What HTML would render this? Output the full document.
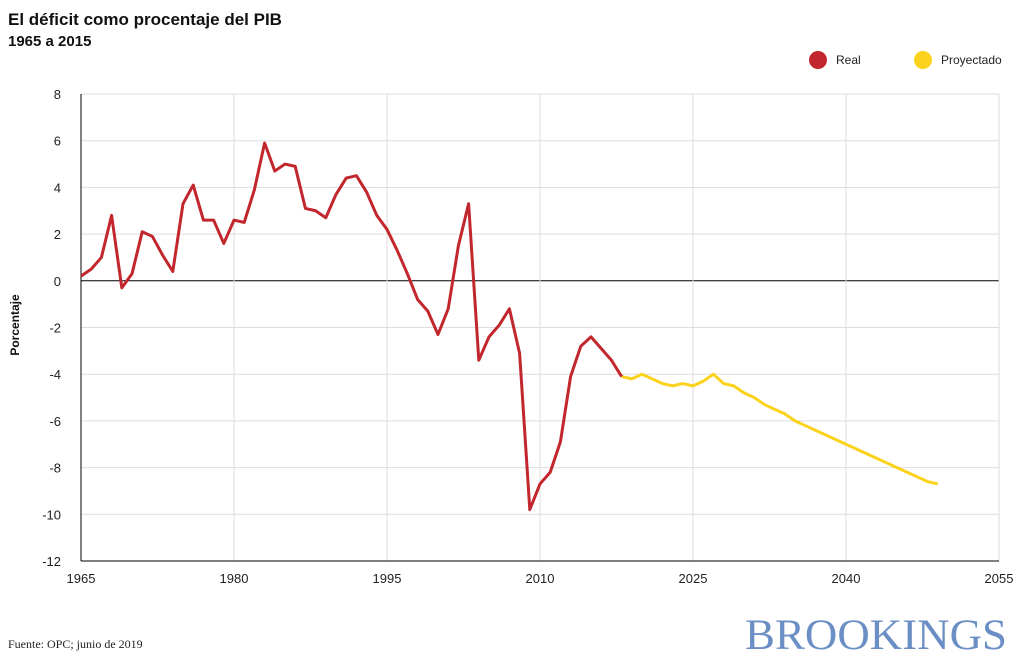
<!DOCTYPE html>
<html><head><meta charset="utf-8">
<style>
body{margin:0;background:#fff;width:1024px;height:663px;overflow:hidden;font-family:"Liberation Sans",sans-serif;}
svg{display:block}
</style></head>
<body>
<svg width="1024" height="663" id="chart">
<text x="8" y="25" font-size="17" font-weight="bold" fill="#111">El déficit como procentaje del PIB</text>
<text x="8" y="46" font-size="15" font-weight="bold" fill="#111">1965 a 2015</text>
<g>
<circle cx="818" cy="60" r="9" fill="#c1272d"/>
<text x="836" y="64" font-size="12" fill="#222">Real</text>
<circle cx="923" cy="60" r="9" fill="#fbd21c"/>
<text x="941" y="64" font-size="12" fill="#222">Proyectado</text>
</g>
<text transform="translate(19,325) rotate(-90)" text-anchor="middle" font-size="12" font-weight="bold" fill="#111">Porcentaje</text>
<g id="grid"></g>
<g id="marks"></g>
<text x="8" y="648" font-size="12" font-family="'Liberation Serif',serif" fill="#222">Fuente: OPC; junio de 2019</text>
<text x="745" y="649" textLength="262" lengthAdjust="spacingAndGlyphs" font-size="43" font-family="'Liberation Serif',serif" fill="#6b8fc4">BROOKINGS</text>
</svg>
<script>
const realYears=[1965,1966,1967,1968,1969,1970,1971,1972,1973,1974,1975,1976,1977,1978,1979,1980,1981,1982,1983,1984,1985,1986,1987,1988,1989,1990,1991,1992,1993,1994,1995,1996,1997,1998,1999,2000,2001,2002,2003,2004,2005,2006,2007,2008,2009,2010,2011,2012,2013,2014,2015,2016,2017,2018];
const realValues=[0.2,0.5,1.0,2.8,-0.3,0.3,2.1,1.9,1.1,0.4,3.3,4.1,2.6,2.6,1.6,2.6,2.5,3.9,5.9,4.7,5.0,4.9,3.1,3.0,2.7,3.7,4.4,4.5,3.8,2.8,2.2,1.3,0.3,-0.8,-1.3,-2.3,-1.2,1.5,3.3,-3.4,-2.4,-1.9,-1.2,-3.1,-9.8,-8.7,-8.2,-6.9,-4.1,-2.8,-2.4,-2.9,-3.4,-4.1];
const projYears=[2018,2019,2020,2021,2022,2023,2024,2025,2026,2027,2028,2029,2030,2031,2032,2033,2034,2035,2036,2037,2038,2039,2040,2041,2042,2043,2044,2045,2046,2047,2048,2049];
const projValues=[-4.1,-4.2,-4.0,-4.2,-4.4,-4.5,-4.4,-4.5,-4.3,-4.0,-4.4,-4.5,-4.8,-5.0,-5.3,-5.5,-5.7,-6.0,-6.2,-6.4,-6.6,-6.8,-7.0,-7.2,-7.4,-7.6,-7.8,-8.0,-8.2,-8.4,-8.6,-8.7];
const xTicks=[1965,1980,1995,2010,2025,2040,2055];
const yTicks=[8,6,4,2,0,-2,-4,-6,-8,-10,-12];
const X0=81,X1=999,Y0=94,Y1=561;
const xs=v=>X0+(v-1965)/(2055-1965)*(X1-X0);
const ys=v=>Y0+(8-v)/(8-(-12))*(Y1-Y0);
const NS="http://www.w3.org/2000/svg";
const grid=document.getElementById('grid'),marks=document.getElementById('marks');
function mk(tag,attrs,parent){const e=document.createElementNS(NS,tag);for(const k in attrs)e.setAttribute(k,attrs[k]);parent.appendChild(e);return e;}
yTicks.forEach(v=>{
  const l=mk('line',{x1:X0,x2:X1,y1:ys(v),y2:ys(v),stroke:v===0?'#000':'#ddd','stroke-width':1},grid);
  
  
  const t=mk('text',{x:61,y:ys(v)+5,'text-anchor':'end','font-size':13,fill:'#222'},grid);
  t.textContent=v;
  
  
});
xTicks.forEach(v=>{
  const l=mk('line',{x1:xs(v),x2:xs(v),y1:Y0,y2:Y1,stroke:v===1965?'#000':'#ddd','stroke-width':1},grid);
  
  
  const t=mk('text',{x:xs(v),y:Y1+22,'text-anchor':'middle','font-size':13,fill:'#222'},grid);
  t.textContent=v;
  
  
});
const xa=mk('line',{x1:X0,x2:X1,y1:Y1,y2:Y1,stroke:'#000'},grid);


const pp=mk('polyline',{points:projYears.map((y,i)=>xs(y)+','+ys(projValues[i])).join(' '),fill:'none',stroke:'#fbd21c','stroke-width':3,'stroke-linejoin':'round'},marks);


const rp=mk('polyline',{points:realYears.map((y,i)=>xs(y)+','+ys(realValues[i])).join(' '),fill:'none',stroke:'#c1272d','stroke-width':3,'stroke-linejoin':'round'},marks);


</script>
</body></html>
